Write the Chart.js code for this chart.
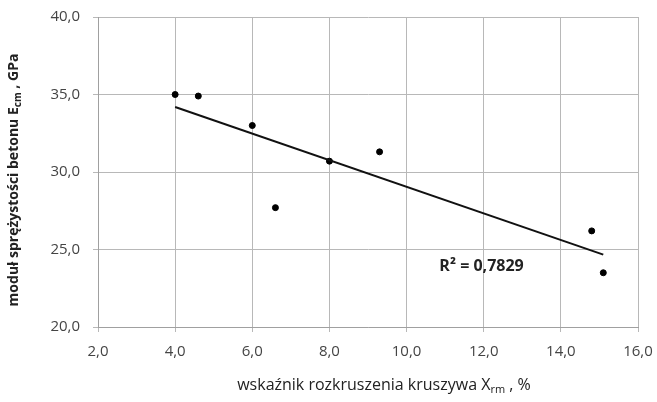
<!DOCTYPE html>
<html>
<head>
<meta charset="utf-8">
<script src="https://cdn.jsdelivr.net/npm/chart.js@4.4.1/dist/chart.umd.min.js"></script>
<style>
  html, body { margin: 0; padding: 0; background: #fff; }
  #wrap { width: 657px; height: 402px; }
</style>
</head>
<body>
<div id="wrap"><canvas id="scatterChart" width="657" height="402"></canvas></div>
<script>
// data
const crushIndex = [4.0, 4.6, 6.0, 6.6, 8.0, 9.3, 14.8, 15.1];
const modulus = [35.0, 34.9, 33.0, 27.7, 30.7, 31.3, 26.2, 23.5];
const xTicks = [2, 4, 6, 8, 10, 12, 14, 16];
const yTicks = [20, 25, 30, 35, 40];
const r2Label = 'R² = 0,7829';

const FONT = "'Open Sans', 'Liberation Sans', sans-serif";
const fmt = v => v.toFixed(1).replace('.', ',');

// least squares trend line over the points
function trendLine(xs, ys) {
    const n = xs.length;
    const mx = xs.reduce((a, b) => a + b, 0) / n;
    const my = ys.reduce((a, b) => a + b, 0) / n;
    let sxy = 0, sxx = 0;
    xs.forEach((x, i) => { sxy += (x - mx) * (ys[i] - my); sxx += (x - mx) * (x - mx); });
    const slope = sxy / sxx;
    const icpt = my - slope * mx;
    const x0 = Math.min(...xs), x1 = Math.max(...xs);
    return [{ x: x0, y: icpt + slope * x0 }, { x: x1, y: icpt + slope * x1 }];
}

// keep label overflow from pushing the plot area around
function noLabelPadding(axis) {
    axis.paddingTop = 0;
    axis.paddingBottom = 0;
    axis.paddingLeft = 0;
    axis.paddingRight = 0;
}

// axis titles with subscripts, drawn as text
const titlesPlugin = {
    id: 'titles',
    afterDraw(chart) {
        const ctx = chart.ctx;
        ctx.save();
        ctx.fillStyle = '#222';
        ctx.textBaseline = 'alphabetic';

        // x title
        const xParts = [['wskaźnik rozkruszenia kruszywa X', 16, 0], ['rm', 11, 3], [' , %', 16, 0]];
        let w = 0;
        xParts.forEach(p => { ctx.font = p[1] + 'px ' + FONT; w += ctx.measureText(p[0]).width; });
        let x = 384 - w / 2;
        xParts.forEach(p => {
            ctx.font = p[1] + 'px ' + FONT;
            ctx.fillText(p[0], x, 390 + p[2]);
            x += ctx.measureText(p[0]).width;
        });

        // y title (rotated)
        const yParts = [['moduł sprężystości betonu E', 14, 0], ['cm', 10, 3], [' , GPa', 14, 0]];
        ctx.translate(18, 180);
        ctx.rotate(-Math.PI / 2);
        w = 0;
        yParts.forEach(p => { ctx.font = 'bold ' + p[1] + 'px ' + FONT; w += ctx.measureText(p[0]).width; });
        x = -w / 2;
        yParts.forEach(p => {
            ctx.font = 'bold ' + p[1] + 'px ' + FONT;
            ctx.fillText(p[0], x, p[2]);
            x += ctx.measureText(p[0]).width;
        });
        ctx.restore();

        // R² label
        ctx.save();
        ctx.font = 'bold 16px ' + FONT;
        ctx.fillStyle = '#222';
        ctx.textBaseline = 'middle';
        ctx.fillText(r2Label, chart.scales.x.getPixelForValue(10.85), chart.scales.y.getPixelForValue(23.9));
        ctx.restore();
    }
};

const ctx = document.getElementById('scatterChart').getContext('2d');
const chart = new Chart(ctx, {
    type: 'scatter',
    data: {
        datasets: [{
            label: 'trend',
            type: 'line',
            data: trendLine(crushIndex, modulus),
            borderColor: '#111',
            borderWidth: 2,
            pointRadius: 0,
            fill: false
        }, {
            label: 'Ecm',
            data: crushIndex.map((x, i) => ({ x: x, y: modulus[i] })),
            backgroundColor: '#000',
            borderColor: '#000',
            pointRadius: 3,
            pointHoverRadius: 3
        }]
    },
    options: {
        responsive: false,
        animation: false,
        layout: { padding: { left: 0, right: 19, top: 17, bottom: 0 } },
        plugins: {
            legend: { display: false },
            tooltip: { enabled: false }
        },
        scales: {
            x: {
                type: 'linear',
                min: 2,
                max: 16,
                afterBuildTicks: axis => { axis.ticks = xTicks.map(v => ({ value: v })); },
                afterFit: axis => { axis.height = 75; noLabelPadding(axis); },
                grid: { color: '#b8b8b8', lineWidth: 1, tickLength: 5 },
                border: { color: '#a0a0a0' },
                ticks: {
                    color: '#444',
                    font: { family: FONT, size: 15 },
                    padding: 11,
                    maxRotation: 0,
                    callback: v => fmt(v)
                }
            },
            y: {
                type: 'linear',
                min: 20,
                max: 40,
                afterBuildTicks: axis => { axis.ticks = yTicks.map(v => ({ value: v })); },
                afterFit: axis => { axis.width = 98; noLabelPadding(axis); },
                grid: { color: '#b8b8b8', lineWidth: 1, tickLength: 5 },
                border: { color: '#a0a0a0' },
                ticks: {
                    color: '#444',
                    font: { family: FONT, size: 15 },
                    padding: 13,
                    callback: v => fmt(v)
                }
            }
        }
    },
    plugins: [titlesPlugin]
});
</script>
</body>
</html>
